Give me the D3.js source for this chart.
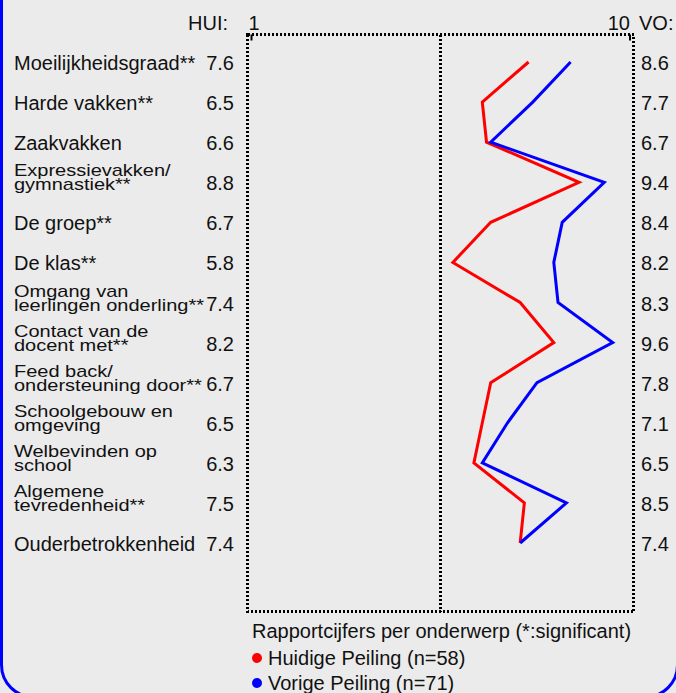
<!DOCTYPE html>
<html>
<head>
<meta charset="utf-8">
<script src="https://cdn.jsdelivr.net/npm/d3@7"></script>
<style>
  html, body { margin: 0; padding: 0; background: #ebebeb; }
  svg text { font-family: "Liberation Sans", Arial, sans-serif; fill: #111; }
</style>
</head>
<body>
<script>
// onderwerpen (regels van een label)
const onderwerpen = [
  ["Moeilijkheidsgraad**"],
  ["Harde vakken**"],
  ["Zaakvakken"],
  ["Expressievakken/", "gymnastiek**"],
  ["De groep**"],
  ["De klas**"],
  ["Omgang van", "leerlingen onderling**"],
  ["Contact van de", "docent met**"],
  ["Feed back/", "ondersteuning door**"],
  ["Schoolgebouw en", "omgeving"],
  ["Welbevinden op", "school"],
  ["Algemene", "tevredenheid**"],
  ["Ouderbetrokkenheid"]
];

// huidige peiling (HUI) en vorige peiling (VO)
const hui = [7.6, 6.5, 6.6, 8.8, 6.7, 5.8, 7.4, 8.2, 6.7, 6.5, 6.3, 7.5, 7.4];
const vo  = [8.6, 7.7, 6.7, 9.4, 8.4, 8.2, 8.3, 9.6, 7.8, 7.1, 6.5, 8.5, 7.4];

const schaalTicks = [1, 10];
const legendaTitel = "Rapportcijfers per onderwerp (*:significant)";
const legenda = [
  { naam: "Huidige Peiling (n=58)", kleur: "#ff0000" },
  { naam: "Vorige Peiling (n=71)", kleur: "#0000ff" }
];

const width = 676, height = 693;
const box = { left: 247.5, right: 633.5, top: 34.5, bottom: 611.5 };

const svg = d3.select("body").append("svg")
  .attr("width", width).attr("height", height);

// achtergrond met blauwe rand
svg.append("rect")
  .attr("x", 1.5).attr("y", -60)
  .attr("width", 676).attr("height", 757)
  .attr("rx", 32).attr("ry", 32)
  .attr("fill", "#ebebeb")
  .attr("stroke", "#0000ff").attr("stroke-width", 3);

// schalen
const x = d3.scaleLinear().domain([1, 10]).range([251, 629.5]);
const y = d3.scaleLinear().domain([0, onderwerpen.length - 1]).range([62, 543]);

// gestippeld kader
const dots = g => g.attr("fill", "none").attr("stroke", "#000")
  .attr("stroke-width", 3).attr("stroke-dasharray", "2,2")
  .attr("shape-rendering", "crispEdges");
svg.append("rect")
  .attr("x", box.left).attr("y", box.top)
  .attr("width", box.right - box.left).attr("height", box.bottom - box.top)
  .call(dots);
svg.append("line")
  .attr("x1", 440.5).attr("x2", 440.5)
  .attr("y1", box.top).attr("y2", box.bottom)
  .call(dots);

// as bovenaan: 1 en 10
const as = svg.append("g")
  .attr("transform", "translate(0," + box.top + ")")
  .call(d3.axisTop(x).tickValues(schaalTicks).tickSize(-6).tickPadding(5).tickFormat(d3.format("d")));
as.select(".domain").remove();
as.selectAll(".tick line").attr("stroke", "#000").attr("stroke-width", 2);
as.selectAll(".tick text")
  .attr("font-size", 20).attr("fill", "#111")
  .attr("font-family", "Liberation Sans, Arial, sans-serif")
  .attr("text-anchor", (d, i) => i === 0 ? "start" : "end")
  .attr("dx", (d, i) => i === 0 ? -3 : 0);

svg.append("text").attr("x", 228).attr("y", 30)
  .attr("text-anchor", "end").attr("font-size", 20).text("HUI:");
svg.append("text").attr("x", 639).attr("y", 30)
  .attr("font-size", 20).text("VO:");

// labels links
const rij = svg.selectAll("g.rij")
  .data(onderwerpen)
  .enter().append("g")
  .attr("class", "rij");

rij.append("text")
  .attr("font-size", 20)
  .attr("transform", (d, i) => d.length === 1
    ? "translate(14," + (y(i) + 8) + ")"
    : "translate(14," + y(i) + ") scale(1,0.85)")
  .each(function (d) {
    const t = d3.select(this);
    if (d.length === 1) { t.text(d[0]); return; }
    t.append("tspan").attr("x", 0).attr("y", -6 / 0.85).text(d[0]);
    t.append("tspan").attr("x", 0).attr("y", 8 / 0.85).text(d[1]);
  });

rij.append("text")
  .attr("x", 234).attr("y", (d, i) => y(i) + 8)
  .attr("text-anchor", "end").attr("font-size", 20)
  .text((d, i) => hui[i].toFixed(1));

rij.append("text")
  .attr("x", 641).attr("y", (d, i) => y(i) + 8)
  .attr("font-size", 20)
  .text((d, i) => vo[i].toFixed(1));

// lijnen
const lijn = d3.line()
  .x(d => x(d))
  .y((d, i) => y(i));

svg.append("path").datum(hui)
  .attr("d", lijn).attr("fill", "none")
  .attr("stroke", "#ff0000").attr("stroke-width", 3);
svg.append("path").datum(vo)
  .attr("d", lijn).attr("fill", "none")
  .attr("stroke", "#0000ff").attr("stroke-width", 3);

// legenda
svg.append("text").attr("x", 252).attr("y", 638)
  .attr("font-size", 20).text(legendaTitel);

const leg = svg.selectAll("g.leg")
  .data(legenda)
  .enter().append("g").attr("class", "leg")
  .attr("transform", (d, i) => "translate(0," + (665 + i * 25) + ")");
leg.append("circle")
  .attr("cx", 257).attr("cy", -7).attr("r", 5)
  .attr("fill", d => d.kleur);
leg.append("text")
  .attr("x", 268).attr("y", 0).attr("font-size", 20)
  .text(d => d.naam);
</script>
</body>
</html>
